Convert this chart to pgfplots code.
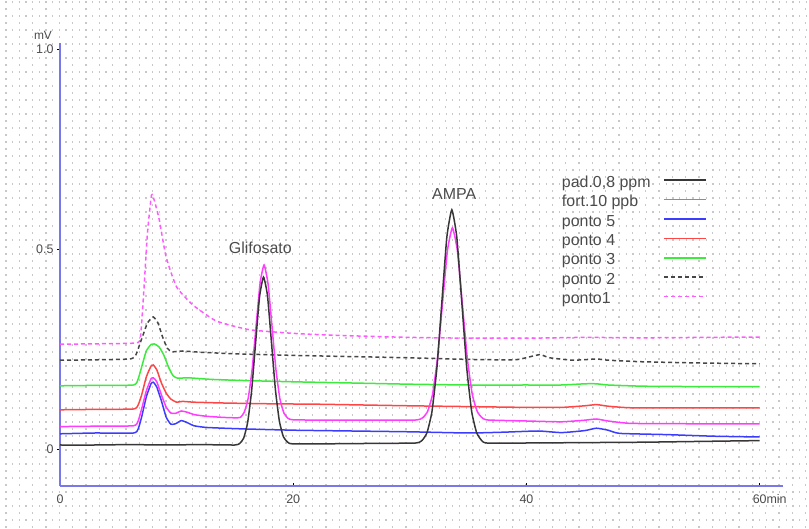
\documentclass[border=0pt]{standalone}
\usepackage{pgfplots}
\pgfplotsset{compat=1.18}
\usepackage{fontspec}
\setmainfont{Liberation Sans}
\definecolor{cpad}{RGB}{55,55,55}
\definecolor{cfort}{RGB}{255,60,255}
\definecolor{cblue}{RGB}{60,60,255}
\definecolor{cred}{RGB}{255,70,70}
\definecolor{cgreen}{RGB}{60,235,60}
\definecolor{cp2}{RGB}{70,70,70}
\definecolor{cp1}{RGB}{255,90,255}
\definecolor{axisblue}{RGB}{120,120,235}
\definecolor{labgray}{RGB}{75,75,75}
\definecolor{dotc}{RGB}{200,200,200}
\begin{document}
\begin{tikzpicture}
\useasboundingbox (0,0) rectangle (809bp,529bp);
% dotted background
\foreach \r in {0,...,37} {
  \draw[dotc, line width=1.3bp, dash pattern=on 1.3bp off 5.37bp] (5.3bp,{527bp-\r*14bp}) -- (809bp,{527bp-\r*14bp});
  \draw[dotc, line width=1.3bp, dash pattern=on 1.3bp off 12.03bp] (5.3bp,{520bp-\r*14bp}) -- (809bp,{520bp-\r*14bp});
}
\begin{axis}[
  at={(60bp,43bp)}, anchor=south west,
  scale only axis, width=723bp, height=443bp,
  xmin=0, xmax=62, ymin=-0.0925, ymax=1.015,
  axis lines=left,
  axis line style={-, draw=axisblue, line width=1.6bp},
  clip=false,
  xtick={0,20,40,60}, xticklabels={0,20,40,60\rlap{min}},
  ytick={0,0.5,1}, yticklabels={0,0.5,1.0},
  major tick length=3bp,
  tick style={black, line width=0.6bp},
  xtick align=inside, ytick align=outside,
  ticklabel style={font=\fontsize{12.5}{14}\selectfont, text=labgray},
  xticklabel style={yshift=-5bp},
  legend plot pos=right,
  legend cell align=left,
  reverse legend,
  legend image code/.code={\draw[#1, line width=1.6bp] (0bp,0.3em) -- (42bp,0.3em);},
  legend style={at={(0.694,0.702)}, anchor=north west, draw=none, fill=none,
    font=\fontsize{16}{18}\selectfont, text=labgray,
    row sep=3.4bp, column sep=13bp, inner sep=0pt,
    nodes={inner sep=0pt, text height=12bp, text depth=4bp}},
  every axis plot/.append style={line width=1.5bp, smooth, tension=0.3},
]
\addplot[cp1, dash pattern=on 4bp off 3bp] coordinates {
(0,0.262) (3,0.263) (6.5,0.265) (6.9,0.28) (7.2,0.40) (7.5,0.54) (7.85,0.635) (8.1,0.62) (8.5,0.575) (9.1,0.48) (10.0,0.405) (11.4,0.36) (13.4,0.32) (16.3,0.298) (20.6,0.288) (25,0.283) (30,0.279) (35,0.277) (40,0.277) (45,0.279) (50,0.278) (55,0.279) (60,0.28)};
\addlegendentry{ponto1}
\addplot[cp2, dash pattern=on 4bp off 3bp] coordinates {
(0,0.222) (3,0.223) (6.0,0.225) (6.5,0.235) (7.0,0.275) (7.5,0.315) (8.0,0.33) (8.4,0.315) (8.8,0.28) (9.2,0.252) (9.6,0.243) (10.5,0.245) (12,0.242) (15,0.238) (20,0.234) (25,0.231) (30,0.228) (35,0.224) (39,0.223) (40.5,0.232) (41.2,0.236) (42,0.228) (44,0.222) (46,0.225) (47,0.222) (50,0.218) (55,0.215) (60,0.213)};
\addlegendentry{ponto 2}
\addplot[cgreen] coordinates {
(0,0.158) (3,0.159) (6.3,0.160) (6.7,0.175) (7.0,0.205) (7.4,0.245) (7.8,0.261) (8.1,0.2625) (8.5,0.255) (8.9,0.235) (9.3,0.205) (9.7,0.183) (10.1,0.177) (11,0.178) (13,0.174) (16,0.171) (20,0.168) (25,0.165) (30,0.162) (35,0.160) (40,0.160) (43,0.160) (45,0.163) (46,0.163) (47,0.160) (50,0.157) (55,0.156) (60,0.156)};
\addlegendentry{ponto 3}
\addplot[cred] coordinates {
(0,0.098) (3,0.099) (6.3,0.100) (6.7,0.11) (7.0,0.135) (7.4,0.18) (7.8,0.207) (8.0,0.21) (8.3,0.198) (8.7,0.165) (9.1,0.14) (9.5,0.125) (10.0,0.117) (10.5,0.119) (11.5,0.117) (14,0.115) (18,0.113) (22,0.112) (26,0.110) (30,0.108) (35,0.106) (40,0.104) (43,0.104) (45,0.108) (46,0.111) (47,0.107) (49,0.103) (55,0.103) (60,0.103)};
\addlegendentry{ponto 4}
\addplot[cblue] coordinates {
(0,0.038) (3,0.040) (6.3,0.040) (6.7,0.05) (7.0,0.08) (7.4,0.13) (7.8,0.163) (8.0,0.167) (8.3,0.155) (8.7,0.12) (9.1,0.08) (9.5,0.062) (9.9,0.063) (10.4,0.071) (10.9,0.066) (11.5,0.058) (12.5,0.054) (14,0.052) (16,0.050) (20,0.047) (25,0.045) (30,0.043) (35,0.040) (38,0.042) (41,0.045) (43,0.041) (45,0.046) (46,0.052) (47,0.047) (48,0.039) (52,0.036) (56,0.032) (60,0.030)};
\addlegendentry{ponto 5}
\addplot[cfort] coordinates {
(0,0.056) (3,0.057) (6.3,0.058) (6.7,0.070) (7.0,0.100) (7.4,0.145) (7.8,0.175) (8.0,0.178) (8.3,0.168) (8.7,0.135) (9.1,0.105) (9.5,0.090) (9.9,0.089) (10.4,0.095) (10.9,0.092) (11.5,0.086) (12.5,0.082) (14,0.079) (15.0,0.078) (15.46,0.079) (15.8,0.092) (16.14,0.127) (16.48,0.200) (16.82,0.309) (17.16,0.415) (17.5,0.460) (17.84,0.413) (18.18,0.307) (18.52,0.198) (18.86,0.125) (19.2,0.090) (19.54,0.077) (20.0,0.073) (23,0.072) (27,0.072) (30.5,0.0725) (31.1,0.078) (31.525,0.094) (31.95,0.137) (32.375,0.228) (32.8,0.364) (33.225,0.496) (33.65,0.553) (34.075,0.496) (34.5,0.364) (34.925,0.228) (35.35,0.137) (35.775,0.094) (36.2,0.078) (36.7,0.0725) (40,0.070) (43,0.068) (45,0.072) (46,0.075) (47,0.070) (49,0.064) (55,0.063) (60,0.063)};
\addlegendentry{fort.10 ppb}
\addplot[cpad] coordinates {
(0,0.010) (3,0.010) (6,0.011) (9,0.010) (12,0.011) (15,0.010) (15.41,0.014) (15.75,0.027) (16.09,0.066) (16.43,0.145) (16.77,0.264) (17.11,0.380) (17.45,0.430) (17.79,0.384) (18.13,0.268) (18.47,0.149) (18.81,0.070) (19.15,0.031) (19.49,0.018) (19.9,0.013) (23,0.013) (27,0.014) (30.5,0.015) (31.05,0.0215) (31.475,0.041) (31.9,0.094) (32.325,0.204) (32.75,0.369) (33.175,0.530) (33.6,0.598) (34.025,0.530) (34.45,0.369) (34.875,0.204) (35.3,0.094) (35.725,0.041) (36.15,0.0215) (36.6,0.015) (40,0.015) (45,0.016) (50,0.017) (55,0.019) (60,0.021)};
\addlegendentry{pad.0,8 ppm}
\node[font=\fontsize{16}{18}\selectfont, text=labgray] at (axis cs:17.18,0.5025) {Glifosato};
\node[font=\fontsize{16}{18}\selectfont, text=labgray] at (axis cs:33.8,0.6375) {AMPA};
\node[font=\fontsize{12}{14}\selectfont, text=labgray] at (axis cs:-1.46,1.035) {mV};
\end{axis}
\end{tikzpicture}
\end{document}
